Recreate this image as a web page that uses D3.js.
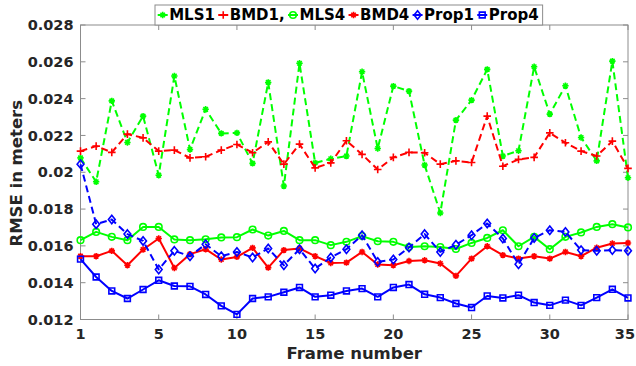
<!DOCTYPE html>
<html>
<head>
<meta charset="utf-8">
<script src="https://cdn.jsdelivr.net/npm/d3@7"></script>
<style>
  html, body { margin: 0; padding: 0; background: #fff; }
  svg { display: block; font-family: "DejaVu Sans", sans-serif; font-weight: bold; }
</style>
</head>
<body>
<svg id="chart" width="636" height="366"></svg>
<script>
// Frame positions along the x axis
const frames = [0, 1, 2, 3, 4, 5, 6, 7, 8, 9, 10, 11, 12, 13, 14, 15, 16, 17,
                18, 19, 20, 21, 22, 23, 24, 25, 26, 27, 28, 29, 30, 31, 32, 33, 34, 35];

// RMSE per frame for each method
const mls1 = [0.02078, 0.01948, 0.02388, 0.02162, 0.02305, 0.01984, 0.02523, 0.02124, 0.02342, 0.02211,
              0.02214, 0.02048, 0.02488, 0.01925, 0.02592, 0.02051, 0.02073, 0.02088, 0.02546, 0.02129,
              0.02468, 0.02441, 0.02039, 0.01779, 0.02283, 0.02392, 0.02559, 0.02088, 0.02117, 0.02573,
              0.02316, 0.02470, 0.02189, 0.02062, 0.02604, 0.01970];
const bmd1 = [0.02115, 0.02142, 0.02108, 0.02207, 0.02187, 0.02115, 0.02120, 0.02078, 0.02084, 0.02120,
              0.02151, 0.02106, 0.02165, 0.02044, 0.02153, 0.02024, 0.02051, 0.02171, 0.02097, 0.02015,
              0.02081, 0.02108, 0.02106, 0.02044, 0.02062, 0.02053, 0.02305, 0.02033, 0.02070, 0.02081,
              0.02214, 0.02160, 0.02115, 0.02088, 0.02169, 0.02021];
const mls4 = [0.01631, 0.01676, 0.01649, 0.01631, 0.01703, 0.01703, 0.01635, 0.01631, 0.01636, 0.01646,
              0.01647, 0.01689, 0.01656, 0.01681, 0.01631, 0.01631, 0.01604, 0.01622, 0.01653, 0.01625,
              0.01622, 0.01594, 0.01598, 0.01594, 0.01583, 0.01616, 0.01643, 0.01685, 0.01598, 0.01649,
              0.01582, 0.01649, 0.01673, 0.01703, 0.01718, 0.01700];
const bmd4 = [0.01544, 0.01544, 0.01573, 0.01495, 0.01580, 0.01640, 0.01480, 0.01555, 0.01582, 0.01526,
              0.01540, 0.01589, 0.01482, 0.01577, 0.01586, 0.01544, 0.01507, 0.01509, 0.01567, 0.01499,
              0.01495, 0.01518, 0.01522, 0.01504, 0.01437, 0.01531, 0.01598, 0.01550, 0.01531, 0.01544,
              0.01531, 0.01567, 0.01544, 0.01590, 0.01613, 0.01616];
const prop1 = [0.02044, 0.01718, 0.01743, 0.01664, 0.01627, 0.01472, 0.01573, 0.01544, 0.01609, 0.01544,
               0.01567, 0.01537, 0.01586, 0.01495, 0.01582, 0.01477, 0.01537, 0.01582, 0.01658, 0.01513,
               0.01526, 0.01591, 0.01664, 0.01567, 0.01606, 0.01658, 0.01722, 0.01640, 0.01500, 0.01643,
               0.01685, 0.01676, 0.01577, 0.01573, 0.01577, 0.01573];
const prop4 = [0.01528, 0.01431, 0.01355, 0.01314, 0.01363, 0.01413, 0.01382, 0.01380, 0.01336, 0.01274,
               0.01228, 0.01314, 0.01323, 0.01348, 0.01374, 0.01323, 0.01332, 0.01355, 0.01368, 0.01323,
               0.01374, 0.01390, 0.01337, 0.01319, 0.01287, 0.01265, 0.01328, 0.01317, 0.01332, 0.01292,
               0.01277, 0.01305, 0.01277, 0.01319, 0.01364, 0.01317];

// Axis ticks and labels
const xTicks = [0, 5, 10, 15, 20, 25, 30, 35];
const xTickLabels = ["1", "5", "10", "15", "20", "25", "30", "35"];
const yTicks = [0.012, 0.014, 0.016, 0.018, 0.02, 0.022, 0.024, 0.026, 0.028];
const yTickLabels = ["0.012", "0.014", "0.016", "0.018", "0.02", "0.022", "0.024", "0.026", "0.028"];

const seriesNames = ["MLS1", "BMD1,", "MLS4", "BMD4", "Prop1", "Prop4"];

const series = [
  { name: seriesNames[0], values: mls1,  color: "#00ff00", dashed: true,  marker: "asterisk" },
  { name: seriesNames[1], values: bmd1,  color: "#ff0000", dashed: true,  marker: "plus" },
  { name: seriesNames[2], values: mls4,  color: "#00ff00", dashed: false, marker: "circle" },
  { name: seriesNames[3], values: bmd4,  color: "#ff0000", dashed: false, marker: "asterisk" },
  { name: seriesNames[4], values: prop1, color: "#0000ff", dashed: true,  marker: "diamond" },
  { name: seriesNames[5], values: prop4, color: "#0000ff", dashed: false, marker: "square" }
];

const W = 636;
const svg = d3.select("#chart");
const plot = { left: 80.5, right: 628, top: 25, bottom: 319.5 };
const axisColor = "#8c8c8c";
const textColor = "#262626";

const x = d3.scaleLinear().domain([0, 35]).range([plot.left, plot.right]);
const y = d3.scaleLinear().domain([0.012, 0.028]).range([plot.bottom, plot.top]);

// Marker shapes, centred on (0,0)
function markerPath(type) {
  const p = d3.path();
  if (type === "asterisk") {
    const r = 3.2, d = r * 0.7071;
    p.moveTo(-r, 0); p.lineTo(r, 0);
    p.moveTo(0, -r); p.lineTo(0, r);
    p.moveTo(-d, -d); p.lineTo(d, d);
    p.moveTo(-d, d); p.lineTo(d, -d);
  } else if (type === "plus") {
    const r = 3.8;
    p.moveTo(-r, 0); p.lineTo(r, 0);
    p.moveTo(0, -r); p.lineTo(0, r);
  } else if (type === "circle") {
    p.arc(0, 0, 3.3, 0, 2 * Math.PI);
  } else if (type === "diamond") {
    p.moveTo(0, -4.2); p.lineTo(3.4, 0); p.lineTo(0, 4.2); p.lineTo(-3.4, 0); p.closePath();
  } else if (type === "square") {
    p.rect(-2.9, -2.9, 5.8, 5.8);
  }
  return p.toString();
}

// Axes box
svg.append("rect")
  .attr("x", plot.left).attr("y", plot.top)
  .attr("width", plot.right - plot.left).attr("height", plot.bottom - plot.top)
  .attr("fill", "#fff").attr("stroke", axisColor).attr("stroke-width", 1);

// Inward ticks on all four sides
const tickLen = 5;
const tickG = svg.append("g").attr("stroke", axisColor).attr("stroke-width", 1);
xTicks.forEach(v => {
  const px = x(v);
  tickG.append("line").attr("x1", px).attr("x2", px).attr("y1", plot.bottom).attr("y2", plot.bottom - tickLen);
  tickG.append("line").attr("x1", px).attr("x2", px).attr("y1", plot.top).attr("y2", plot.top + tickLen);
});
yTicks.forEach(v => {
  const py = y(v);
  tickG.append("line").attr("x1", plot.left).attr("x2", plot.left + tickLen).attr("y1", py).attr("y2", py);
  tickG.append("line").attr("x1", plot.right).attr("x2", plot.right - tickLen).attr("y1", py).attr("y2", py);
});

// Tick labels (the last x label is nudged so it stays inside the page)
svg.append("g").selectAll("text").data(xTicks).join("text")
  .attr("x", d => x(d)).attr("y", plot.bottom + 19)
  .attr("text-anchor", "middle").attr("font-size", 14.5).attr("fill", textColor)
  .text((d, i) => xTickLabels[i])
  .each(function (d) {
    const w = this.getComputedTextLength();
    const cx = x(d);
    if (cx + w / 2 > W - 1) d3.select(this).attr("x", W - 1 - w / 2);
  });
svg.append("g").selectAll("text").data(yTicks).join("text")
  .attr("x", plot.left - 7).attr("y", d => y(d)).attr("dy", "0.36em")
  .attr("text-anchor", "end").attr("font-size", 14.5).attr("fill", textColor)
  .text((d, i) => yTickLabels[i]);

// Axis titles
svg.append("text")
  .attr("x", x(17.5)).attr("y", 359)
  .attr("text-anchor", "middle").attr("font-size", 16.5).attr("fill", textColor)
  .text("Frame number");
svg.append("text")
  .attr("transform", `translate(21.5, ${(plot.top + plot.bottom) / 2 + 1}) rotate(-90)`)
  .attr("text-anchor", "middle").attr("font-size", 16.5).attr("fill", textColor)
  .text("RMSE in meters");

// Series lines and markers
const line = d3.line().x((d, i) => x(frames[i])).y(d => y(d));
series.forEach(s => {
  const g = svg.append("g");
  g.append("path")
    .attr("d", line(s.values))
    .attr("fill", "none").attr("stroke", s.color).attr("stroke-width", 2)
    .attr("stroke-dasharray", s.dashed ? "7,4" : null)
    .attr("stroke-linejoin", "round");
  g.selectAll("path.m").data(s.values).join("path")
    .attr("class", "m")
    .attr("transform", (d, i) => `translate(${x(frames[i])},${y(d)})`)
    .attr("d", markerPath(s.marker))
    .attr("fill", "none").attr("stroke", s.color).attr("stroke-width", 1.6);
});

// Legend
const legend = svg.append("g");
const legendBox = legend.append("rect")
  .attr("y", 5).attr("height", 20).attr("x", 155)
  .attr("fill", "#fff").attr("stroke", axisColor).attr("stroke-width", 1);
let cx = 162.7;
series.forEach(s => {
  legend.append("line")
    .attr("x1", cx - 5).attr("x2", cx + 5).attr("y1", 15).attr("y2", 15)
    .attr("stroke", s.color).attr("stroke-width", 2);
  legend.append("path")
    .attr("transform", `translate(${cx},15)`)
    .attr("d", markerPath(s.marker))
    .attr("fill", "none").attr("stroke", s.color).attr("stroke-width", 1.6);
  const t = legend.append("text")
    .attr("x", cx + 6.5).attr("y", 15).attr("dy", "0.36em")
    .attr("font-size", 15).attr("fill", "#000")
    .text(s.name);
  cx = cx + 6.5 + t.node().getComputedTextLength() + 8.3;
});
legendBox.attr("width", cx - 8.3 + 4 - 155);
</script>
</body>
</html>
